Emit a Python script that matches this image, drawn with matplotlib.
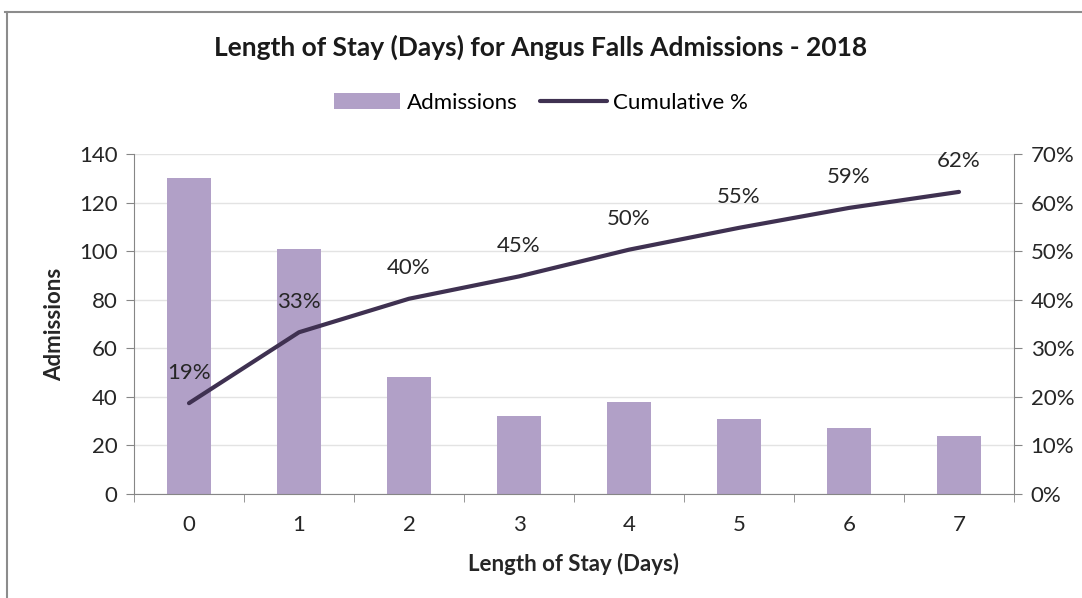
import matplotlib.pyplot as plt
from matplotlib.ticker import FuncFormatter

# data
days = [0, 1, 2, 3, 4, 5, 6, 7]
admissions = [130, 101, 48, 32, 38, 31, 27, 24]
cumulative_pct = [18.7, 33.3, 40.2, 44.8, 50.3, 54.8, 58.9, 62.2]
pct_labels = ['19%', '33%', '40%', '45%', '50%', '55%', '59%', '62%']

bar_color = '#B1A0C7'
line_color = '#3F3151'
axis_color = '#868686'
grid_color = '#E3E3E3'
text_color = '#262626'
fs = 16

plt.rcParams['font.family'] = ['Lato', 'DejaVu Sans']

fig = plt.figure(figsize=(10.82, 5.98), dpi=100)
ax = fig.add_axes([134 / 1082, 1 - 494 / 598, 880 / 1082, 340 / 598])

bars = ax.bar(days, admissions, width=0.4, color=bar_color, label='Admissions', zorder=2)
ax.set_xlim(-0.5, 7.5)
ax.set_ylim(0, 140)
ax.set_yticks(range(0, 141, 20))
ax.set_xticks(days)
ax.set_xticks([d + 0.5 for d in days[:-1]] + [-0.5, 7.5], minor=True)
ax.tick_params(axis='x', which='major', length=0, pad=15, labelsize=fs, colors=text_color)
ax.tick_params(axis='x', which='minor', length=6, color=axis_color, direction='out')
ax.tick_params(axis='y', length=6, color=axis_color, labelsize=fs, colors=text_color, pad=6)
ax.grid(axis='y', color=grid_color, linewidth=1, zorder=0)
for side in ['top', 'right']:
    ax.spines[side].set_visible(False)
for side in ['left', 'bottom']:
    ax.spines[side].set_color(axis_color)

ax.set_xlabel('Length of Stay (Days)', fontsize=fs, fontweight='bold', color=text_color, labelpad=13)
ax.set_ylabel('Admissions', fontsize=fs, fontweight='bold', color=text_color, labelpad=10)

ax2 = ax.twinx()
line, = ax2.plot(days, cumulative_pct, color=line_color, linewidth=3,
                 solid_capstyle='round', label='Cumulative %', zorder=3)
ax2.set_ylim(0, 70)
ax2.set_yticks(range(0, 71, 10))
ax2.yaxis.set_major_formatter(FuncFormatter(lambda v, p: f'{v:.0f}%'))
ax2.tick_params(axis='y', length=6, color=axis_color, labelsize=fs, colors=text_color, pad=6)
for side in ['top', 'left', 'bottom']:
    ax2.spines[side].set_visible(False)
ax2.spines['right'].set_color(axis_color)

for d, v, lab in zip(days, cumulative_pct, pct_labels):
    ax2.annotate(lab, (d, v), xytext=(0, 22), textcoords='offset points',
                 ha='center', va='center', fontsize=fs, color=text_color)

fig.text(0.5, 1 - 47 / 598, 'Length of Stay (Days) for Angus Falls Admissions - 2018',
         ha='center', va='center', fontsize=19, fontweight='bold', color='#1a1a1a')

fig.legend([bars, line], ['Admissions', 'Cumulative %'], loc='center',
           bbox_to_anchor=(0.5, 1 - 103 / 598), ncol=2, frameon=False,
           fontsize=fs, handlelength=3.0, handletextpad=0.3, columnspacing=1.0)

# outer frame lines (top and left, as in the reference)
fig.add_artist(plt.Line2D([5 / 1082, 1], [1 - 12 / 598, 1 - 12 / 598], color='#8c8c8c', linewidth=1.5))
fig.add_artist(plt.Line2D([7 / 1082, 7 / 1082], [0, 1 - 12 / 598], color='#8c8c8c', linewidth=1.5))

fig.savefig('out.png', dpi=100)
